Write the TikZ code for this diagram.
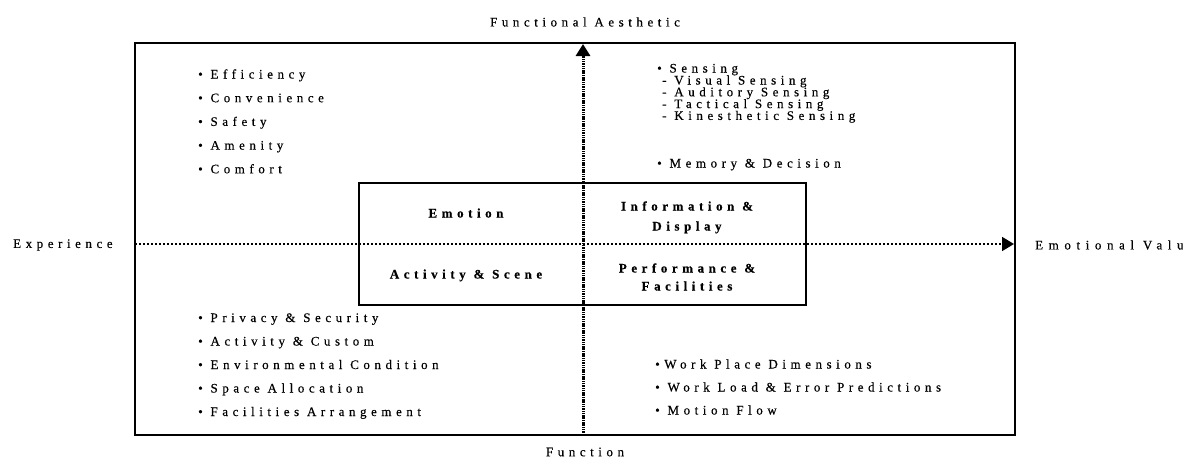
\documentclass[tikz,border=0pt]{standalone}
\usepackage{fontspec}
\usetikzlibrary{arrows.meta}
\newfontfamily\spaced{Liberation Serif}[LetterSpace=35,FakeBold=0.35]
\newfontfamily\spacedwide{Liberation Serif}[LetterSpace=43,FakeBold=0.35]
\newcommand\lbl{\spaced\fontsize{13}{13}\selectfont}

\tikzset{
  txt/.style={font=\lbl, inner sep=0pt},
  item/.style={txt, anchor=base west},
  quad/.style={font=\lbl\bfseries, inner sep=0pt, anchor=base},
  frame/.style={draw, line width=2pt, inner sep=0pt},
  haxis/.style={line width=1.7pt, dash pattern=on 2.4pt off 1.6pt,
    -{Triangle[length=12pt,width=14pt]}},
  vaxis/.style={line width=3pt, dash pattern=on 1.5pt off 0.8pt,
    -{Triangle[length=12pt,width=14pt]}},
}

\begin{document}
\begin{tikzpicture}[x=1pt,y=-1pt]
\useasboundingbox (0,0) rectangle (1183,466);
\clip (0,0) rectangle (1183,466);

% outer frame and central box
\node[frame, minimum width=880pt, minimum height=392pt] (outer) at (575,239) {};
\node[frame, minimum width=447pt, minimum height=122pt] (inner) at (582.5,244) {};

% axes
\coordinate (vbot) at (583,435);
\coordinate (vtop) at (583,44);
\coordinate (hleft) at (135,244);
\coordinate (hright) at (1014,244);
\draw[haxis] (hleft) -- (hright);
\draw[vaxis] (vbot) -- (vtop);

% axis labels
\node[txt] (fa) at (585,22) {Functional Aesthetic};
\node[txt] (fn) at (585,452) {Function};
\node[txt, anchor=west] (exp) at (13,245) {Experience};
\node[txt, font=\spacedwide\fontsize{13}{13}\selectfont, anchor=west] (emv) at (1035,245) {Emotional Value};

% quadrant titles
\node[quad] (emo) at (466,217.5) {Emotion};
\node[quad] (inf1) at (687,210.5) {Information \&};
\node[quad] (inf2) at (687,230.5) {Display};
\node[quad] (act) at (466,278.5) {Activity \& Scene};
\node[quad] (per1) at (687,272.5) {Performance \&};
\node[quad] (per2) at (687,290.5) {Facilities};

% upper left list
\foreach \t [count=\i] in {Efficiency, Convenience, Safety, Amenity, Comfort}
  \node[item] (ul\i) at (198,{78.5+23.7*(\i-1)}) {• \t};

% upper right list
\node[item] (s0) at (657,72.5) {• Sensing};
\foreach \t [count=\i] in {Visual Sensing, Auditory Sensing, Tactical Sensing, Kinesthetic Sensing}
  \node[item] (s\i) at (662,{84.5+11.8*(\i-1)}) {- \t};
\node[item] (mem) at (657,167.5) {• Memory \& Decision};

% lower left list
\foreach \t [count=\i] in {Privacy \& Security, Activity \& Custom, Environmental Condition, Space Allocation, Facilities Arrangement}
  \node[item] (ll\i) at (198,{322+23.5*(\i-1)}) {• \t};

% lower right list
\node[item] (lr1) at (655,368.5) {•Work Place Dimensions};
\node[item] (lr2) at (655,391.5) {• Work Load \& Error Predictions};
\node[item] (lr3) at (655,414.5) {• Motion Flow};
\end{tikzpicture}
\end{document}
